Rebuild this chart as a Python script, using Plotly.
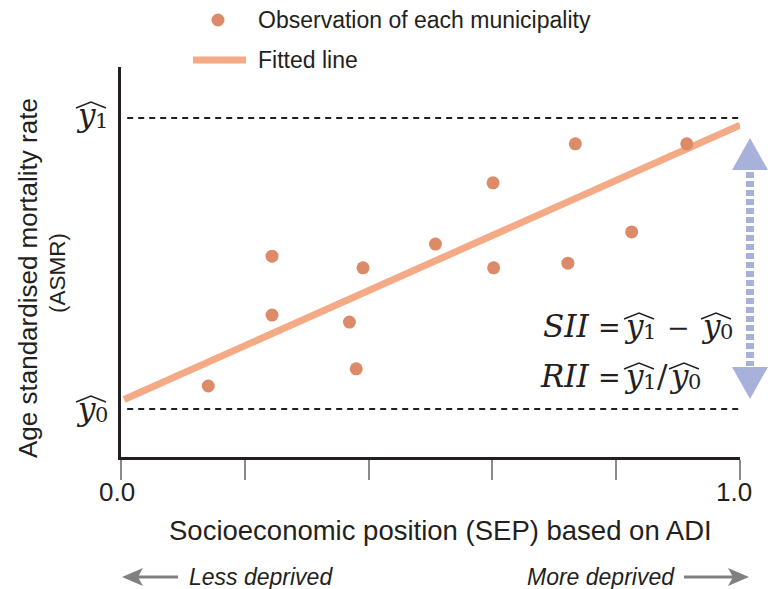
import plotly.graph_objects as go

# ---- data -------------------------------------------------------------
# municipality observations: SEP rank (0 = least deprived, 1 = most deprived)
sep_rank = [0.141, 0.244, 0.244, 0.369, 0.380, 0.391, 0.508,
            0.601, 0.602, 0.722, 0.734, 0.825, 0.914]
asmr = [18.2, 51.5, 36.4, 34.6, 22.6, 48.5, 54.6,
        70.3, 48.5, 49.7, 80.3, 57.7, 80.3]

# fitted regression line (end points)
fit_x = [0.005, 1.0]
fit_y = [14.75, 85.1]

# predicted values at the two extremes of the SEP scale
y0_hat = 12.3
y1_hat = 86.9

x_tick_vals = [0.0, 0.2, 0.4, 0.6, 0.8, 1.0]
x_tick_text = ["0.0", "", "", "", "", "1.0"]

# ---- styling ----------------------------------------------------------
INK = "#231F20"
DOT = "#DC8A68"
FIT = "#F5AA86"
ARROW = "#A7B1DA"
GREY = "#808080"
SANS = "Liberation Sans, Arial, sans-serif"
SERIF = "DejaVu Serif, serif"
MATH_SIZE = 31
OP_SIZE = 27
SUB_SIZE = 21

W, H = 768, 589
L, R, T, B = 121, 740, 67, 457          # plot-area edges in pixels


def px(x):
    return (x - L) / (R - L)


def py(y):
    return (B - y) / (B - T)


fig = go.Figure()

fig.add_trace(go.Scatter(
    x=fit_x, y=fit_y, mode="lines",
    line=dict(color=FIT, width=7),
    name="Fitted line", showlegend=False, cliponaxis=False,
))
fig.add_trace(go.Scatter(
    x=sep_rank, y=asmr, mode="markers",
    marker=dict(color=DOT, size=13, line=dict(width=0)),
    name="Observation of each municipality", showlegend=False, cliponaxis=False,
))

shapes = []
annotations = []

# reference levels for y0-hat and y1-hat
for lvl in (y0_hat, y1_hat):
    shapes.append(dict(type="line", xref="x", yref="y", x0=0.01, x1=1.0,
                       y0=lvl, y1=lvl, line=dict(color=INK, width=2, dash="6px,5px")))


def text_at(text, xc, baseline, size, italic=False, anchor="center"):
    # place a single line of serif text by its baseline
    mid = baseline - 0.346 * size
    return dict(text=f"<i>{text}</i>" if italic else text,
                x=px(xc), y=py(mid), xref="paper", yref="paper",
                xanchor=anchor, yanchor="middle", showarrow=False,
                font=dict(family=SERIF, size=size, color=INK))


def y_hat(x_left, baseline, digit):
    # italic y with an upright subscript digit under a wide hat
    annotations.append(text_at("y", x_left + 9, baseline, MATH_SIZE, italic=True))
    annotations.append(text_at(digit, x_left + 24, baseline + 2, SUB_SIZE))
    top = baseline - 24
    shapes.append(dict(type="path", xref="paper", yref="paper",
                       path=(f"M {px(x_left - 1)} {py(top + 6)} "
                             f"L {px(x_left + 14)} {py(top)} "
                             f"L {px(x_left + 29)} {py(top + 6)}"),
                       line=dict(color=INK, width=1.4)))


# y-axis labels
y_hat(77, 126, "1")
y_hat(77, 420, "0")

# SII / RII formulas
annotations.append(text_at("SII", 566, 337, MATH_SIZE, italic=True))
annotations.append(text_at("=", 609, 337, OP_SIZE))
y_hat(625, 337, "1")
annotations.append(text_at("\u2212", 678, 337, OP_SIZE))
y_hat(702, 337, "0")

annotations.append(text_at("RII", 565, 387, MATH_SIZE, italic=True))
annotations.append(text_at("=", 609, 387, OP_SIZE))
y_hat(625, 387, "1")
annotations.append(text_at("/", 662, 387, MATH_SIZE))
y_hat(670, 387, "0")

# double-headed gap arrow
shapes.append(dict(type="line", xref="paper", yref="paper",
                   x0=px(750), x1=px(750), y0=py(172), y1=py(366),
                   line=dict(color=ARROW, width=8, dash="6px,3px")))
shapes.append(dict(type="path", xref="paper", yref="paper",
                   path=f"M {px(732)} {py(170)} L {px(750)} {py(138)} L {px(768)} {py(170)} Z",
                   fillcolor=ARROW, line=dict(width=0)))
shapes.append(dict(type="path", xref="paper", yref="paper",
                   path=f"M {px(732)} {py(367)} L {px(750)} {py(399)} L {px(768)} {py(367)} Z",
                   fillcolor=ARROW, line=dict(width=0)))

# legend (drawn by hand)
shapes.append(dict(type="circle", xref="paper", yref="paper",
                   x0=px(211.5), x1=px(224.5), y0=py(26.5), y1=py(13.5),
                   fillcolor=DOT, line=dict(width=0)))
shapes.append(dict(type="line", xref="paper", yref="paper",
                   x0=px(193), x1=px(246), y0=py(60), y1=py(60),
                   line=dict(color=FIT, width=7)))
for txt, yy in (("Observation of each municipality", 20), ("Fitted line", 60)):
    annotations.append(dict(text=txt, x=px(256), y=py(yy), xref="paper", yref="paper",
                            xanchor="left", yanchor="middle", showarrow=False,
                            font=dict(family=SANS, size=23, color=INK)))

# x tick labels
for v, t in zip(x_tick_vals, x_tick_text):
    if t:
        annotations.append(dict(text=t, x=v, xref="x", y=py(492), yref="paper",
                                xanchor="center", yanchor="middle", showarrow=False,
                                xshift=-4 if v == 0 else -6,
                                font=dict(family=SANS, size=26, color=INK)))

# axis titles
annotations.append(dict(text="Socioeconomic position (SEP) based on ADI",
                        x=px(440), y=py(530), xref="paper", yref="paper",
                        xanchor="center", yanchor="middle", showarrow=False,
                        font=dict(family=SANS, size=27.5, color=INK)))
annotations.append(dict(text="Age standardised mortality rate",
                        x=px(28), y=py(278), xref="paper", yref="paper", textangle=-90,
                        xanchor="center", yanchor="middle", showarrow=False,
                        font=dict(family=SANS, size=26, color=INK)))
annotations.append(dict(text="(ASMR)",
                        x=px(57), y=py(273), xref="paper", yref="paper", textangle=-90,
                        xanchor="center", yanchor="middle", showarrow=False,
                        font=dict(family=SANS, size=22.5, color=INK)))

# deprivation direction hints
annotations.append(dict(text="<i>Less deprived</i>", x=px(187), y=py(577),
                        xref="paper", yref="paper", xanchor="left", yanchor="middle",
                        showarrow=False, font=dict(family=SANS, size=23, color=INK)))
annotations.append(dict(text="<i>More deprived</i>", x=px(677), y=py(577),
                        xref="paper", yref="paper", xanchor="right", yanchor="middle",
                        showarrow=False, font=dict(family=SANS, size=23, color=INK)))
shapes += [
    dict(type="line", xref="paper", yref="paper", x0=px(178), x1=px(138),
         y0=py(577), y1=py(577), line=dict(color=GREY, width=3)),
    dict(type="path", xref="paper", yref="paper",
         path=f"M {px(122)} {py(577)} L {px(143)} {py(568)} L {px(138)} {py(577)} L {px(143)} {py(586)} Z",
         fillcolor=GREY, line=dict(width=0)),
    dict(type="line", xref="paper", yref="paper", x0=px(684), x1=px(733),
         y0=py(577), y1=py(577), line=dict(color=GREY, width=3)),
    dict(type="path", xref="paper", yref="paper",
         path=f"M {px(749)} {py(577)} L {px(728)} {py(568)} L {px(733)} {py(577)} L {px(728)} {py(586)} Z",
         fillcolor=GREY, line=dict(width=0)),
]

fig.update_layout(
    width=W, height=H,
    margin=dict(l=L, r=W - R, t=T, b=H - B, pad=0),
    paper_bgcolor="white", plot_bgcolor="white",
    showlegend=False,
    shapes=shapes, annotations=annotations,
    xaxis=dict(range=[0, 1], showgrid=False, zeroline=False,
               showline=True, linecolor=INK, linewidth=3,
               tickmode="array", tickvals=x_tick_vals, showticklabels=False,
               ticks="outside", ticklen=20, tickwidth=2, tickcolor="#8a8a8a"),
    yaxis=dict(range=[0, 100], showgrid=False, zeroline=False,
               showline=True, linecolor=INK, linewidth=3,
               showticklabels=False, ticks=""),
)

fig.write_html("out.html")
